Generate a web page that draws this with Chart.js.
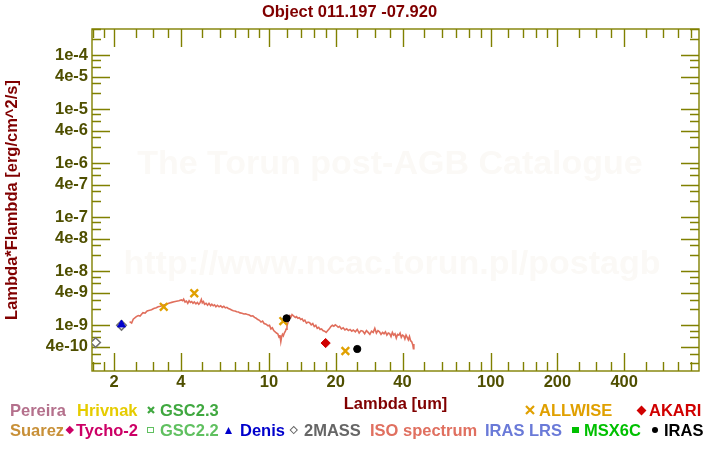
<!DOCTYPE html>
<html>
<head>
<meta charset="utf-8">
<script src="https://cdn.jsdelivr.net/npm/chart.js@4/dist/chart.umd.min.js"></script>
<style>
  html, body { margin: 0; padding: 0; background: #fff; }
  #wrap { position: relative; width: 720px; height: 450px; overflow: hidden; }
  canvas { position: absolute; left: 0; top: 0; }
  .lg { position: absolute; font: bold 16.5px "Liberation Sans", Arial, sans-serif; line-height: 16px; white-space: nowrap; }
  .sym { position: absolute; box-sizing: border-box; }
  .sym svg { display: block; }
</style>
</head>
<body>
<div id="wrap">
  <canvas id="c" width="720" height="450"></canvas>
</div>
<script>
// ---- data ----
const isoWave = [2.35,2.40,2.44,2.52,2.57,2.62,2.70,2.76,2.82,2.89,2.95,3.02,3.10,3.16,3.24,3.32,3.40,3.48,3.56,3.64,3.73,3.82,3.92,4.02,4.08,4.12,4.18,4.24,4.30,4.36,4.42,4.48,4.54,4.60,4.68,4.75,4.82,4.88,4.95,5.00,5.06,5.12,5.20,5.28,5.36,5.45,5.52,5.60,5.68,5.76,5.85,5.95,6.05,6.15,6.25,6.35,6.45,6.55,6.65,6.78,6.90,7.02,7.15,7.28,7.40,7.55,7.70,7.85,8.00,8.15,8.30,8.45,8.60,8.75,8.90,9.05,9.20,9.35,9.50,9.70,9.90,10.05,10.20,10.35,10.50,10.65,10.80,10.95,11.10,11.20,11.30,11.40,11.50,11.60,11.72,11.85,11.95,12.05,12.15,12.30,12.42,12.55,12.70,12.85,13.00,13.15,13.30,13.50,13.70,13.90,14.10,14.30,14.50,14.75,15.00,15.25,15.50,15.75,16.00,16.25,16.50,16.75,17.00,17.25,17.50,17.80,18.10,18.40,18.70,19.00,19.30,19.60,19.90,20.20,20.50,20.80,21.20,21.60,22.00,22.40,22.80,23.20,23.60,24.00,24.50,25.00,25.50,26.00,26.50,27.00,27.50,28.00,28.50,29.00,29.50,30.00,30.50,31.00,31.50,32.00,32.50,33.00,33.50,34.00,34.50,35.00,35.50,36.00,36.50,37.00,37.50,38.00,38.50,39.00,39.50,40.00,40.50,41.00,41.50,42.00,42.50,43.00,43.50,44.00,44.50,44.80,45.00];
const isoFlux = [1.17e-9,1.10e-9,1.30e-9,1.45e-9,1.52e-9,1.48e-9,1.72e-9,1.68e-9,1.85e-9,1.90e-9,1.95e-9,2.05e-9,2.12e-9,2.20e-9,2.25e-9,2.35e-9,2.42e-9,2.50e-9,2.60e-9,2.66e-9,2.72e-9,2.78e-9,2.85e-9,2.95e-9,2.85e-9,3.05e-9,2.70e-9,2.80e-9,2.55e-9,2.85e-9,2.65e-9,2.75e-9,2.55e-9,2.70e-9,2.50e-9,2.65e-9,2.45e-9,2.60e-9,3.00e-9,2.60e-9,2.75e-9,2.45e-9,2.55e-9,2.35e-9,2.55e-9,2.30e-9,2.45e-9,2.30e-9,2.40e-9,2.20e-9,2.35e-9,2.20e-9,2.30e-9,2.15e-9,2.25e-9,2.10e-9,2.15e-9,2.05e-9,2.00e-9,1.92e-9,1.86e-9,1.84e-9,1.78e-9,1.76e-9,1.70e-9,1.68e-9,1.62e-9,1.64e-9,1.58e-9,1.55e-9,1.48e-9,1.50e-9,1.40e-9,1.35e-9,1.28e-9,1.24e-9,1.15e-9,1.20e-9,1.08e-9,1.05e-9,0.98e-9,1.00e-9,0.86e-9,0.90e-9,0.80e-9,0.76e-9,0.72e-9,0.70e-9,0.60e-9,0.66e-9,0.50e-9,0.62e-9,0.68e-9,0.64e-9,0.72e-9,0.78e-9,0.85e-9,0.98e-9,1.10e-9,1.30e-9,1.50e-9,1.42e-9,1.58e-9,1.52e-9,1.45e-9,1.40e-9,1.45e-9,1.35e-9,1.38e-9,1.28e-9,1.32e-9,1.20e-9,1.25e-9,1.10e-9,1.15e-9,1.12e-9,1.02e-9,1.08e-9,0.95e-9,1.00e-9,0.88e-9,0.92e-9,0.84e-9,0.86e-9,0.80e-9,0.78e-9,0.74e-9,0.80e-9,0.86e-9,0.95e-9,1.00e-9,0.96e-9,1.02e-9,0.98e-9,0.92e-9,0.96e-9,0.86e-9,0.90e-9,0.82e-9,0.86e-9,0.80e-9,0.84e-9,0.78e-9,0.82e-9,0.76e-9,0.84e-9,0.72e-9,0.80e-9,0.78e-9,0.70e-9,0.80e-9,0.74e-9,0.68e-9,0.78e-9,0.74e-9,0.88e-9,0.72e-9,0.80e-9,0.76e-9,0.68e-9,0.74e-9,0.70e-9,0.76e-9,0.66e-9,0.72e-9,0.70e-9,0.62e-9,0.74e-9,0.66e-9,0.70e-9,0.58e-9,0.68e-9,0.66e-9,0.72e-9,0.60e-9,0.66e-9,0.64e-9,0.56e-9,0.66e-9,0.60e-9,0.54e-9,0.62e-9,0.52e-9,0.50e-9,0.44e-9,0.37e-9,0.45e-9];

const twoMassWave = [1.65, 2.16];
const twoMassFlux = [4.8e-10, 1.0e-9];
const denisWave = [2.16];
const denisFlux = [1.03e-9];
const allwiseWave = [3.35, 4.6, 11.6, 22.1];
const allwiseFlux = [2.2e-9, 3.92e-9, 1.2e-9, 3.35e-10];
const akariWave = [18.0];
const akariFlux = [4.7e-10];
const irasWave = [12.0, 25.0];
const irasFlux = [1.35e-9, 3.65e-10];

// axis ticks
const xTickValues = [2, 4, 10, 20, 40, 100, 200, 400];
const xTickLabels = ['2', '4', '10', '20', '40', '100', '200', '400'];
const yTickValues = [1e-4, 4e-5, 1e-5, 4e-6, 1e-6, 4e-7, 1e-7, 4e-8, 1e-8, 4e-9, 1e-9, 4e-10];
const yTickLabels = ['1e-4', '4e-5', '1e-5', '4e-6', '1e-6', '4e-7', '1e-7', '4e-8', '1e-8', '4e-9', '1e-9', '4e-10'];
const xMinorSteps = [1, 1.2, 1.4, 1.6, 1.8, 2, 2.5, 3, 3.5, 4, 5, 6, 7, 8, 9];
const xDecades = [1, 10, 100];
const yMinorSteps = [1, 2, 3, 4, 6, 8];
const yDecades = [1e-10, 1e-9, 1e-8, 1e-7, 1e-6, 1e-5, 1e-4];

const pts = (xs, ys) => xs.map((v, i) => ({x: v, y: ys[i]}));

const AXIS = '#808000';
const LABEL = '#4f4f00';
const TITLE = '#800000';
const FONT = '"Liberation Sans", Arial, sans-serif';
const FS = 16.5;

const watermark = {
  id: 'watermark',
  beforeDatasetsDraw(chart) {
    const ctx = chart.ctx;
    ctx.save();
    ctx.fillStyle = 'rgb(251,249,246)';
    ctx.font = 'bold 34px ' + FONT;
    ctx.textAlign = 'center';
    ctx.textBaseline = 'alphabetic';
    ctx.fillText('The Torun post-AGB Catalogue', 390, 174);
    ctx.fillText('http://www.ncac.torun.pl/postagb', 392, 274);
    ctx.restore();
  }
};

const frameTicks = {
  id: 'frameTicks',
  beforeDatasetsDraw(chart) {
    const {ctx, chartArea: a, scales: {x, y}} = chart;
    ctx.save();
    ctx.strokeStyle = AXIS;
    ctx.lineWidth = 1.4;
    ctx.strokeRect(a.left, a.top, a.right - a.left, a.bottom - a.top);
    ctx.beginPath();
    xDecades.forEach(d => xMinorSteps.forEach(m => {
      const v = +(d * m).toPrecision(6);
      if (v <= x.min || v >= x.max) return;
      const px = Math.round(x.getPixelForValue(v)) + 0.5;
      const L = xTickValues.includes(v) ? 18 : 9;
      ctx.moveTo(px, a.bottom); ctx.lineTo(px, a.bottom - L);
      ctx.moveTo(px, a.top); ctx.lineTo(px, a.top + L);
    }));
    yDecades.forEach(d => yMinorSteps.forEach(m => {
      const v = +(d * m).toPrecision(6);
      if (v <= y.min || v >= y.max) return;
      const py = Math.round(y.getPixelForValue(v)) + 0.5;
      const L = (m === 1 || m === 4) ? 18 : 9;
      ctx.moveTo(a.left, py); ctx.lineTo(a.left + L, py);
      ctx.moveTo(a.right, py); ctx.lineTo(a.right - L, py);
    }));
    ctx.stroke();
    ctx.restore();
  }
};

new Chart(document.getElementById('c'), {
  type: 'scatter',
  data: {
    datasets: [
      { label: 'IRAS', data: pts(irasWave, irasFlux), pointStyle: 'circle', pointRadius: 3.6,
        backgroundColor: '#000', borderColor: '#000', borderWidth: 1 },
      { label: 'AKARI', data: pts(akariWave, akariFlux), pointStyle: 'rectRot', pointRadius: 4.6,
        backgroundColor: '#d00000', borderColor: '#d00000', borderWidth: 1 },
      { label: 'ALLWISE', data: pts(allwiseWave, allwiseFlux), pointStyle: 'crossRot', pointRadius: 5.4,
        backgroundColor: '#e0a000', borderColor: '#e0a000', borderWidth: 2.4 },
      { label: 'Denis', data: pts(denisWave, denisFlux), pointStyle: 'triangle', pointRadius: 4.6,
        backgroundColor: '#0000cc', borderColor: '#0000cc', borderWidth: 1 },
      { label: '2MASS', data: pts(twoMassWave, twoMassFlux), pointStyle: 'rectRot', pointRadius: 4.8,
        backgroundColor: '#ffffff', borderColor: '#707070', borderWidth: 1.5 },
      { label: 'ISO spectrum', data: pts(isoWave, isoFlux), showLine: true, pointRadius: 0,
        borderColor: '#e06e5c', borderWidth: 1.6, tension: 0 }
    ]
  },
  options: {
    responsive: false,
    animation: false,
    devicePixelRatio: 1,
    layout: { padding: { left: 0, top: 0, right: 21, bottom: 34 } },
    plugins: {
      legend: { display: false },
      tooltip: { enabled: false },
      title: {
        display: true,
        text: 'Object 011.197 -07.920',
        color: TITLE,
        font: { family: FONT, size: FS, weight: 'bold' },
        padding: { top: 3, bottom: 6.2 }
      }
    },
    scales: {
      x: {
        type: 'logarithmic',
        min: 1.59, max: 870,
        afterBuildTicks: s => { s.ticks = xTickValues.map(v => ({value: v})); },
        afterFit: s => { s.height = 45; },
        ticks: {
          autoSkip: false, maxRotation: 0, padding: 2,
          color: LABEL, font: { family: FONT, size: FS, weight: 'bold' },
          callback: (v, i) => xTickLabels[i]
        },
        grid: { display: false, drawTicks: false },
        border: { display: false },
        title: { display: true, text: 'Lambda [um]', color: TITLE,
                 font: { family: FONT, size: FS, weight: 'bold' }, padding: { top: 0, bottom: 2 } }
      },
      y: {
        type: 'logarithmic',
        min: 1.43e-10, max: 3.03e-4,
        afterBuildTicks: s => { s.ticks = yTickValues.map(v => ({value: v})); },
        afterFit: s => { s.width = 92; },
        ticks: {
          autoSkip: false, padding: 4,
          color: LABEL, font: { family: FONT, size: FS, weight: 'bold' },
          callback: (v, i) => yTickLabels[i]
        },
        grid: { display: false, drawTicks: false },
        border: { display: false },
        title: { display: true, text: 'Lambda*Flambda [erg/cm^2/s]', color: TITLE,
                 font: { family: FONT, size: FS, weight: 'bold' }, padding: { top: 3, bottom: 0 } }
      }
    }
  },
  plugins: [watermark, frameTicks]
});

// ---- legend (HTML text) ----
const legendText = [
  ['Pereira', '#b4708c', 10, 402], ['Hrivnak', '#e6cc00', 77, 402], ['GSC2.3', '#40a840', 160, 402],
  ['ALLWISE', '#e0a000', 539, 402], ['AKARI', '#d00000', 649, 402],
  ['Suarez', '#c89038', 10, 422], ['Tycho-2', '#cc0066', 76, 422], ['GSC2.2', '#60c060', 160, 422],
  ['Denis', '#0000cc', 240, 422], ['2MASS', '#666666', 304, 422], ['ISO spectrum', '#e07060', 370, 422],
  ['IRAS LRS', '#6a7ad8', 485, 422], ['MSX6C', '#00c000', 584, 422], ['IRAS', '#000000', 664, 422]
];
const wrap = document.getElementById('wrap');
legendText.forEach(([t, c, x, y]) => {
  const s = document.createElement('span');
  s.className = 'lg'; s.textContent = t; s.style.color = c;
  s.style.left = x + 'px'; s.style.top = y + 'px';
  wrap.appendChild(s);
});
// legend symbols: [kind, color, centerX, centerY, size]
const legendSymbols = [
  ['x', '#40a840', 150.5, 410, 8], ['x', '#e0a000', 530.2, 410, 10], ['diamond', '#d00000', 641.3, 410, 7],
  ['diamond', '#cc0066', 69.7, 430, 5.5], ['square-open', '#60c060', 150.5, 430, 6.5], ['triangle', '#0000cc', 228.8, 430, 7],
  ['diamond-open', '#666666', 294.2, 430, 5.5], ['square', '#00c000', 575.3, 430, 6.5], ['circle', '#000000', 654.8, 430, 6.5]
];
legendSymbols.forEach(([k, c, cx, cy, sz]) => {
  const d = document.createElement('div');
  d.className = 'sym';
  if (k === 'x') {
    d.innerHTML = '<svg width="' + sz + '" height="' + sz + '"><path d="M1 1L' + (sz-1) + ' ' + (sz-1) + 'M' + (sz-1) + ' 1L1 ' + (sz-1) + '" stroke="' + c + '" stroke-width="2.2"/></svg>';
  } else if (k === 'triangle') {
    d.innerHTML = '<svg width="' + sz + '" height="' + sz + '"><path d="M' + (sz/2) + ' 0L' + sz + ' ' + sz + 'L0 ' + sz + 'Z" fill="' + c + '"/></svg>';
  } else {
    if (k === 'diamond' || k === 'square' || k === 'circle') d.style.background = c;
    if (k === 'diamond-open' || k === 'square-open') d.style.border = '1.5px solid ' + c;
    if (k.startsWith('diamond')) d.style.transform = 'rotate(45deg)';
    if (k === 'circle') d.style.borderRadius = '50%';
  }
  d.style.width = sz + 'px'; d.style.height = sz + 'px';
  d.style.left = (cx - sz / 2) + 'px'; d.style.top = (cy - sz / 2) + 'px';
  wrap.appendChild(d);
});
</script>
</body>
</html>
